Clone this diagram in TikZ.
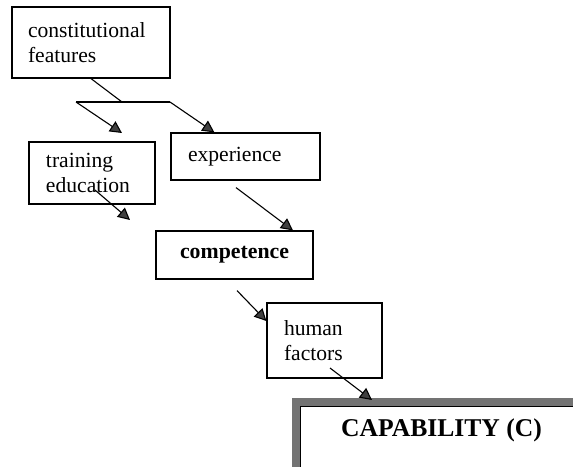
\documentclass[tikz,border=0pt]{standalone}
\usepackage{fontspec}
\setmainfont{Liberation Serif}
\usetikzlibrary{arrows.meta}

\begin{document}
\begin{tikzpicture}[x=0.5pt,y=-0.5pt,
	box/.style={draw,line width=0.6pt,inner ysep=0pt,align=left,font=\fontsize{10.8}{12.5}\selectfont},
	bline/.style={line width=0.55pt},
	link/.style={line width=0.55pt,-{Triangle[width=6pt,length=6pt,fill=black!75]}}]

				\useasboundingbox (0,0) rectangle (573,466);
				\clip (0,0) rectangle (573,466);

				    % Place nodes
				    \node [box,inner xsep=8pt,text width=63pt,minimum height=35.5pt] (const) at (91,42.5) {constitutional\\features};
				    \node [box,inner xsep=8.5pt,text width=46pt,minimum height=31pt] (train) at (92,173) {training\\education};
				    \node [box,inner xsep=8.5pt,text width=57.5pt,minimum height=23.5pt] (exper) at (245.5,156.5) {experience};
				    \node [box,inner xsep=8.5pt,text width=61.5pt,minimum height=24pt,align=center,font=\fontsize{10.9}{12.5}\selectfont\bfseries] (compet) at (234.5,255) {competence};
				    \node [box,inner xsep=8.5pt,text width=40.5pt,minimum height=37.5pt] (human) at (324.5,340.5) {human\\factors};

				    % capability frame
				    \fill [black!55] (292,398) rectangle (640,520);
				    \fill [white] (300,406) rectangle (640,520);
				    \draw [line width=0.5pt] (300.3,520) |- (640,406.3);
				    \node [font=\fontsize{12.8}{14}\selectfont\bfseries] (capab) at (441.5,430.5) {CAPABILITY (C)};

				    % free ends
				    \coordinate (split) at (122,102);
				    \coordinate (lbr) at (76,102);
				    \coordinate (rbr) at (170,102);
				    \coordinate (ltip) at (122,133);
				    \coordinate (ttip) at (130,220);
				    \coordinate (ctop) at (372,400);

					\draw [bline] (const.south) -- (split);
					\draw [bline] (lbr) -- (rbr);
					\draw [link] (lbr) -- (ltip);
					\draw [link] (rbr) -- ([xshift=22pt]exper.north west);

					\draw [link] ([xshift=1.5pt,yshift=-8.5pt]train.center) -- (ttip);
					\draw [link] ([xshift=-4.75pt,yshift=-3.5pt]exper.south) -- ([xshift=29.25pt]compet.north);
					\draw [link] ([xshift=1.25pt,yshift=-5.5pt]compet.south) -- ([yshift=9.75pt]human.west);
					\draw [link] ([xshift=2.75pt,yshift=-13.75pt]human.center) -- (ctop);

				\end{tikzpicture}
\end{document}
